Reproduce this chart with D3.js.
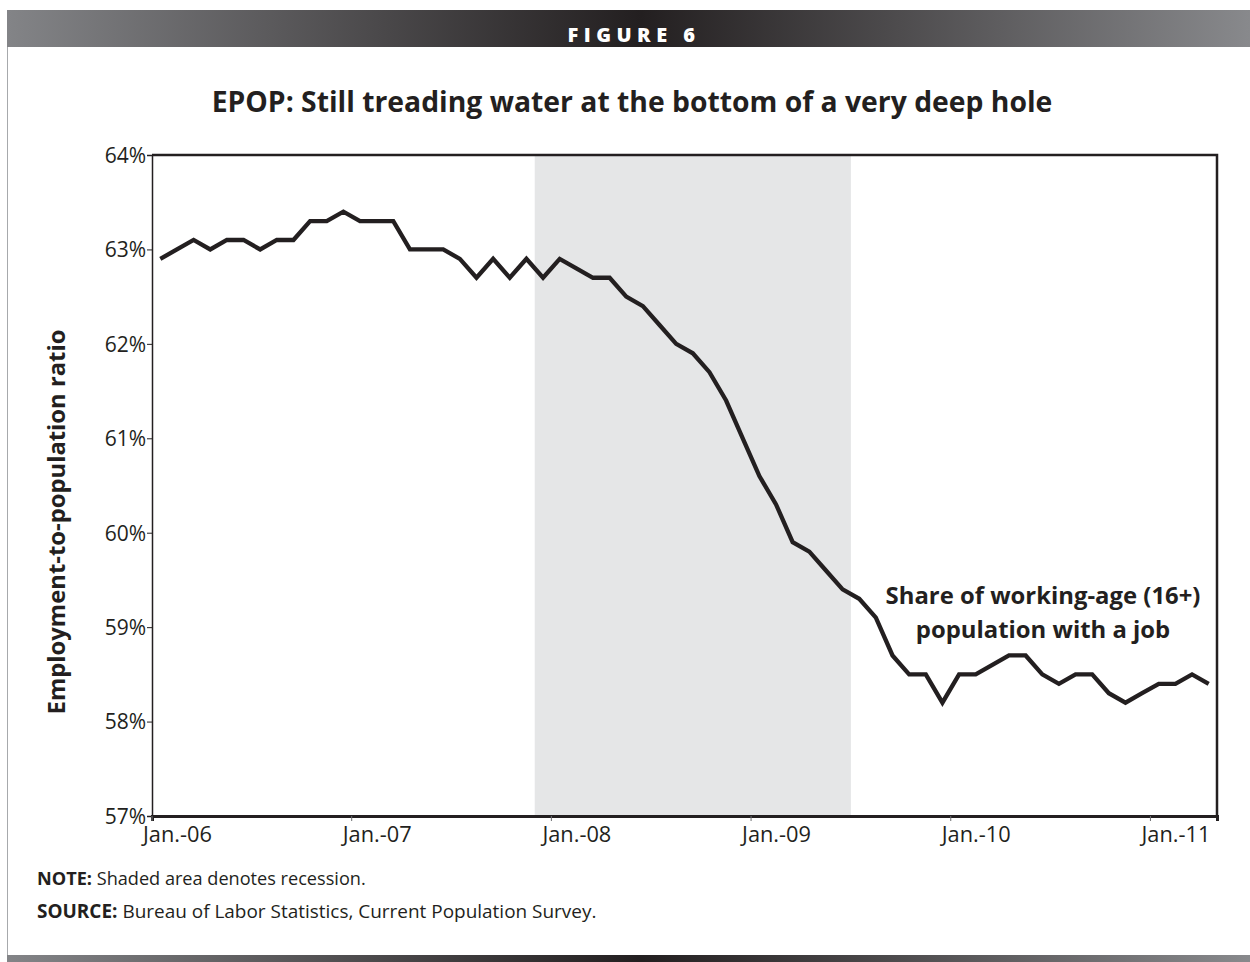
<!DOCTYPE html>
<html><head><meta charset="utf-8">
<script src="https://cdn.jsdelivr.net/npm/d3@7"></script>
<style>body{margin:0;background:#fff}svg{display:block}</style>
</head><body>
<script>
const months = ["Jan-06","Feb-06","Mar-06","Apr-06","May-06","Jun-06","Jul-06","Aug-06","Sep-06","Oct-06","Nov-06","Dec-06",
"Jan-07","Feb-07","Mar-07","Apr-07","May-07","Jun-07","Jul-07","Aug-07","Sep-07","Oct-07","Nov-07","Dec-07",
"Jan-08","Feb-08","Mar-08","Apr-08","May-08","Jun-08","Jul-08","Aug-08","Sep-08","Oct-08","Nov-08","Dec-08",
"Jan-09","Feb-09","Mar-09","Apr-09","May-09","Jun-09","Jul-09","Aug-09","Sep-09","Oct-09","Nov-09","Dec-09",
"Jan-10","Feb-10","Mar-10","Apr-10","May-10","Jun-10","Jul-10","Aug-10","Sep-10","Oct-10","Nov-10","Dec-10",
"Jan-11","Feb-11","Mar-11","Apr-11"];
const epop = [62.9,63.0,63.1,63.0,63.1,63.1,63.0,63.1,63.1,63.3,63.3,63.4,
63.3,63.3,63.3,63.0,63.0,63.0,62.9,62.7,62.9,62.7,62.9,62.7,
62.9,62.8,62.7,62.7,62.5,62.4,62.2,62.0,61.9,61.7,61.4,61.0,
60.6,60.3,59.9,59.8,59.6,59.4,59.3,59.1,58.7,58.5,58.5,58.2,
58.5,58.5,58.6,58.7,58.7,58.5,58.4,58.5,58.5,58.3,58.2,58.3,
58.4,58.4,58.5,58.4];
const xTickMonths = ["Jan-06","Jan-07","Jan-08","Jan-09","Jan-10","Jan-11"];
const xTickLabels = ["Jan.-06","Jan.-07","Jan.-08","Jan.-09","Jan.-10","Jan.-11"];
const yTicks = [57,58,59,60,61,62,63,64];
const recession = ["Dec-07","Jun-09"];
const title = "EPOP: Still treading water at the bottom of a very deep hole";
const yTitle = "Employment-to-population ratio";
const annotation = ["Share of working-age (16+)","population with a job"];

const W = 1250, H = 962;
const L = 152, R = 1217, T = 155, B = 816;
const ink = "#231f20";
const font = "'Open Sans', sans-serif";

const svg = d3.select("body").append("svg").attr("width", W).attr("height", H);
const defs = svg.append("defs");
const grad = defs.append("linearGradient").attr("id","hdr").attr("x1","0").attr("x2","1").attr("y1","0").attr("y2","0");
grad.append("stop").attr("offset","0").attr("stop-color","#838487");
grad.append("stop").attr("offset","0.51").attr("stop-color","#231f20");
grad.append("stop").attr("offset","1").attr("stop-color","#88898c");

function fit(sel, target){
  const n = sel.node(); let fs = parseFloat(sel.attr("font-size"));
  const w = n.getComputedTextLength();
  if (w > 0) sel.attr("font-size", (fs * target / w).toFixed(2));
  return sel;
}

// header
svg.append("rect").attr("x",7).attr("y",10).attr("width",W-7).attr("height",37).attr("fill","url(#hdr)");
svg.append("text").attr("x",634).attr("y",42).attr("text-anchor","middle").attr("fill","#fff")
  .attr("font-family",font).attr("font-weight",800).attr("font-size",20).attr("letter-spacing","5.5px").text("FIGURE 6");
svg.append("line").attr("x1",7.5).attr("x2",7.5).attr("y1",47).attr("y2",956).attr("stroke","#a7a9ac").attr("stroke-width",1);
svg.append("rect").attr("x",7).attr("y",955).attr("width",W-7).attr("height",7).attr("fill","url(#hdr)");

// title
fit(svg.append("text").attr("x",632).attr("y",112).attr("text-anchor","middle").attr("fill",ink)
  .attr("font-family",font).attr("font-weight",700).attr("font-size",24).text(title), 841);

const x = d3.scaleBand().domain(months).range([L, R]).padding(0);
const y = d3.scaleLinear().domain([57, 64]).range([B, T]);
const cx = m => x(m) + x.bandwidth()/2;

// recession shading
svg.append("rect").attr("x", x(recession[0])).attr("y", T)
  .attr("width", x(recession[1]) + x.bandwidth() - x(recession[0])).attr("height", B - T).attr("fill","#e5e6e7");

// frame top/right
svg.append("path").attr("d",`M${L},${T}H${R}V${B}`).attr("fill","none").attr("stroke",ink).attr("stroke-width",2.5);

// y axis
const yAxis = svg.append("g").attr("transform",`translate(${L},0)`)
  .call(d3.axisLeft(y).tickValues(yTicks).tickFormat(d => d + "%").tickSize(5).tickPadding(1));
yAxis.attr("font-size",null);
yAxis.select(".domain").attr("stroke",ink).attr("stroke-width",1.5);
yAxis.selectAll(".tick line").attr("stroke",ink).attr("stroke-width",1);
yAxis.selectAll(".tick text").attr("font-family",font).attr("font-size",21).attr("fill",ink).attr("dy","0.35em");

// x axis
const xAxis = svg.append("g").attr("transform",`translate(0,${B})`)
  .call(d3.axisBottom(x).tickValues(xTickMonths).tickSize(5).tickFormat((d,i) => xTickLabels[i]));
xAxis.attr("font-size",null);
xAxis.selectAll(".tick").attr("transform", d => `translate(${x(d)},0)`);
xAxis.select(".domain").attr("stroke",ink).attr("stroke-width",3);
xAxis.selectAll(".tick line").attr("stroke","#6d6e71").attr("stroke-width",1);
xAxis.selectAll(".tick text").attr("font-family",font).attr("font-size",21).attr("fill",ink)
  .attr("text-anchor","start").attr("x",-9).attr("y",11).attr("dy","0.71em");
xAxis.selectAll(".tick text").each(function(){ fit(d3.select(this), 69); });

// line
svg.append("path").datum(epop)
  .attr("d", d3.line().x((d,i) => cx(months[i])).y(d => y(d)))
  .attr("fill","none").attr("stroke",ink).attr("stroke-width",4.3).attr("stroke-linejoin","miter");

// y title
fit(svg.append("text").attr("transform","translate(65,522) rotate(-90)").attr("text-anchor","middle").attr("fill",ink)
  .attr("font-family",font).attr("font-weight",700).attr("font-size",20).text(yTitle), 385);

// annotation
const a1 = fit(svg.append("text").attr("x",1043).attr("y",604).attr("text-anchor","middle").attr("fill",ink)
  .attr("font-family",font).attr("font-weight",700).attr("font-size",20).text(annotation[0]), 315);
svg.append("text").attr("x",1043).attr("y",638).attr("text-anchor","middle").attr("fill",ink)
  .attr("font-family",font).attr("font-weight",700).attr("font-size",a1.attr("font-size")).text(annotation[1]);

// notes
const note = svg.append("text").attr("x",37).attr("y",885).attr("fill",ink).attr("font-family",font).attr("font-size",15);
note.append("tspan").attr("font-weight",700).text("NOTE:");
note.append("tspan").text(" Shaded area denotes recession.");
fit(note, 329);
const src = svg.append("text").attr("x",37).attr("y",918).attr("fill",ink).attr("font-family",font).attr("font-size",15);
src.append("tspan").attr("font-weight",700).text("SOURCE:");
src.append("tspan").text(" Bureau of Labor Statistics, Current Population Survey.");
fit(src, 560);
</script>
</body></html>
